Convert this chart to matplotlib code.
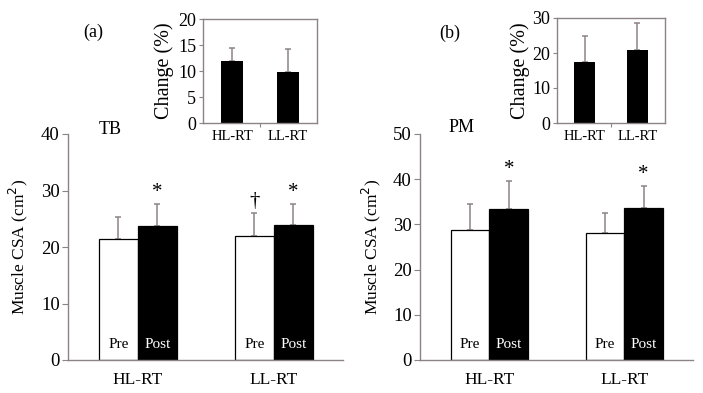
import matplotlib.pyplot as plt

plt.rcParams['font.family'] = ['Liberation Serif', 'DejaVu Serif']

groups = ['HL-RT', 'LL-RT']

tb_pre = [21.4, 21.9]
tb_pre_sd = [3.9, 4.1]
tb_post = [23.7, 23.9]
tb_post_sd = [3.9, 3.7]

pm_pre = [28.8, 28.1]
pm_pre_sd = [5.7, 4.5]
pm_post = [33.4, 33.7]
pm_post_sd = [6.2, 4.8]

tb_change = [11.9, 9.8]
tb_change_sd = [2.6, 4.5]
pm_change = [17.4, 20.9]
pm_change_sd = [7.5, 7.7]

W, H = 703, 393
gray = '#8c8484'


def box(l, r, t, b):
    # pixel box -> figure fraction
    return [l / W, (H - b) / H, (r - l) / W, (b - t) / H]


def main_panel(ax, pre, pre_sd, post, post_sd, ymax, step, marks):
    w = 0.287
    xs = range(len(groups))
    xpre = [x - w / 2 for x in xs]
    xpost = [x + w / 2 for x in xs]
    ax.bar(xpre, pre, width=w, color='white', edgecolor='black', linewidth=0.9, zorder=2)
    ax.bar(xpost, post, width=w, color='black', edgecolor='black', linewidth=0.9, zorder=2)
    ax.errorbar(xpre, pre, yerr=[[0] * len(pre), pre_sd], fmt='none', ecolor=gray,
                elinewidth=1.1, capsize=2.5, capthick=1.1, zorder=1)
    ax.errorbar(xpost, post, yerr=[[0] * len(post), post_sd], fmt='none', ecolor=gray,
                elinewidth=1.1, capsize=2.5, capthick=1.1, zorder=1)
    for i in xs:
        ax.annotate('Pre', (xpre[i], 0), xytext=(0, 11), textcoords='offset points',
                    ha='center', va='center', fontsize=11)
        ax.annotate('Post', (xpost[i], 0), xytext=(0, 11), textcoords='offset points',
                    ha='center', va='center', fontsize=11, color='white')
    for kind, i, sym in marks:
        if kind == 'pre':
            x, top = xpre[i], pre[i] + pre_sd[i]
        else:
            x, top = xpost[i], post[i] + post_sd[i]
        ax.annotate(sym, (x, top), xytext=(0, 8), textcoords='offset points',
                    ha='center', va='center', fontsize=15)
    ax.set_xlim(-0.515, 1.51)
    ax.set_ylim(0, ymax)
    ax.set_yticks(range(0, ymax + 1, step))
    ax.set_xticks(list(xs))
    ax.set_xticklabels(groups)
    ax.spines['top'].set_visible(False)
    ax.spines['right'].set_visible(False)
    for s in ('left', 'bottom'):
        ax.spines[s].set_color(gray)
        ax.spines[s].set_linewidth(1.0)
    ax.tick_params(axis='y', length=4, color=gray, labelsize=13.5, pad=2)
    ax.tick_params(axis='x', length=0, labelsize=12.5, pad=9)
    ax.set_ylabel('Muscle CSA (cm$^2$)', fontsize=12.5)
    ax.yaxis.set_label_coords(-0.137, 0.5)


def inset_panel(ax, vals, sd, ymax, step):
    ax.bar(range(len(groups)), vals, width=0.39, color='black', zorder=2)
    ax.errorbar(range(len(groups)), vals, yerr=[[0] * len(vals), sd], fmt='none',
                ecolor=gray, elinewidth=1.1, capsize=2.5, capthick=1.1, zorder=1)
    ax.set_xlim(-0.52, 1.52)
    ax.set_ylim(0, ymax)
    ax.set_yticks(range(0, ymax + 1, step))
    ax.set_xticks([0.5])
    ax.set_xticklabels([''])
    for s in ax.spines.values():
        s.set_color(gray)
        s.set_linewidth(1.0)
    ax.tick_params(axis='y', length=3, color=gray, labelsize=13, pad=2)
    ax.tick_params(axis='x', length=3, color=gray)
    for i, g in enumerate(groups):
        ax.annotate(g, (i, 0), xytext=(0, -10), textcoords='offset points',
                    ha='center', va='center', fontsize=10.5)
    ax.set_ylabel('Change (%)', fontsize=14.5)
    ax.yaxis.set_label_coords(-0.25, 0.5)


fig = plt.figure(figsize=(W / 100, H / 100), dpi=100)

ax_a = fig.add_axes(box(68, 343, 134, 360))
main_panel(ax_a, tb_pre, tb_pre_sd, tb_post, tb_post_sd, 40, 10,
           [('post', 0, '*'), ('pre', 1, '†'), ('post', 1, '*')])

ax_b = fig.add_axes(box(420, 693, 134, 360))
main_panel(ax_b, pm_pre, pm_pre_sd, pm_post, pm_post_sd, 50, 10,
           [('post', 0, '*'), ('post', 1, '*')])

ins_a = fig.add_axes(box(203, 317, 19, 123))
inset_panel(ins_a, tb_change, tb_change_sd, 20, 5)

ins_b = fig.add_axes(box(557, 665, 18, 123))
inset_panel(ins_b, pm_change, pm_change_sd, 30, 10)

fig.text(93 / W, 1 - 32 / H, '(a)', ha='center', va='center', fontsize=13)
fig.text(450 / W, 1 - 33 / H, '(b)', ha='center', va='center', fontsize=13)
fig.text(110 / W, 1 - 130 / H, 'TB', ha='center', va='center', fontsize=13)
fig.text(462 / W, 1 - 128 / H, 'PM', ha='center', va='center', fontsize=13)

fig.savefig('out.png', dpi=100)
